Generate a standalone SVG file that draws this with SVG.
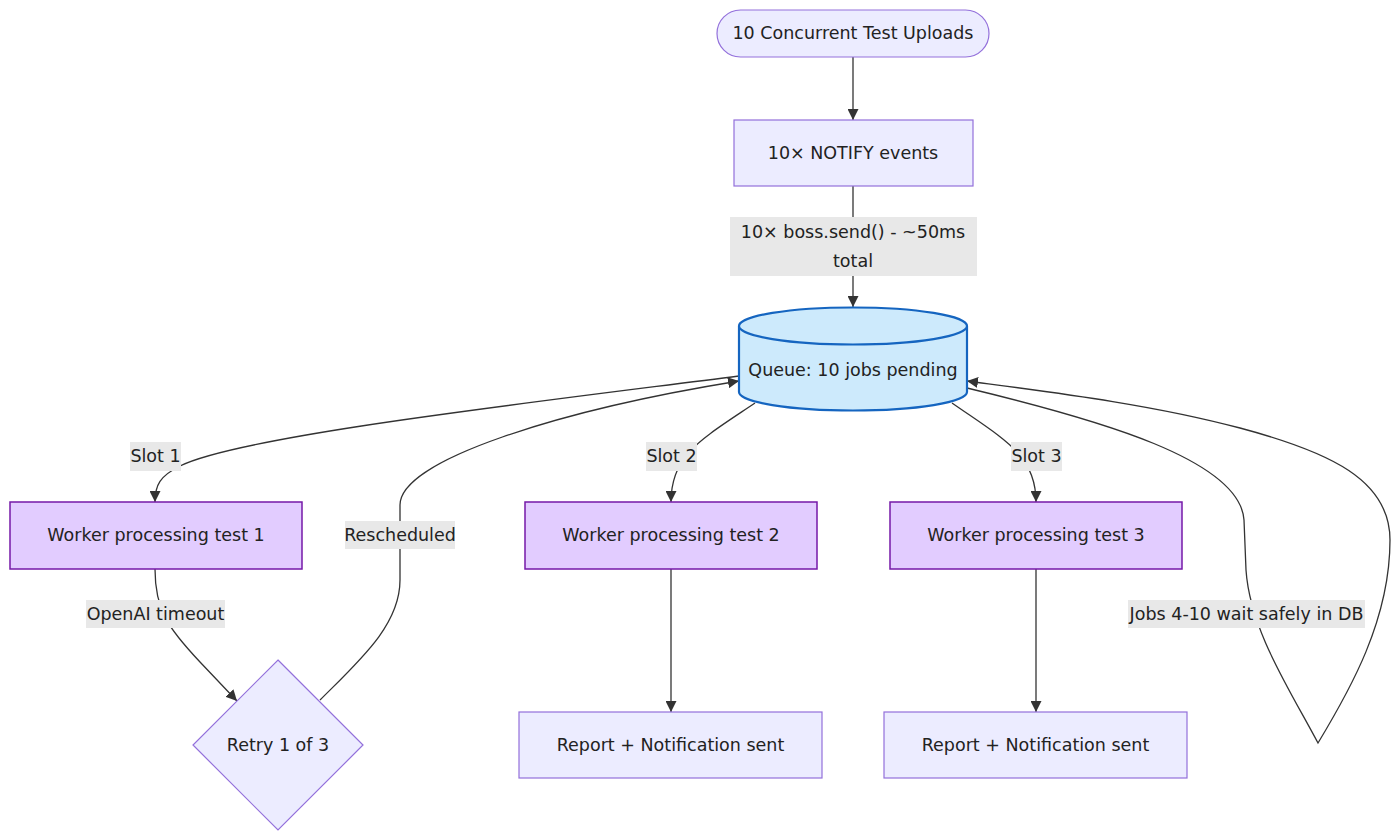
<svg xmlns="http://www.w3.org/2000/svg" width="1400" height="840" viewBox="0 0 1400 840">
<style>
text{font-family:"DejaVu Sans","Liberation Sans",Arial,sans-serif;font-size:17.5px;fill:#222;text-anchor:middle;dominant-baseline:central}
.n{fill:#ececff;stroke:#9370db;stroke-width:1.2}
.w{fill:#e2ccff;stroke:#7519a8;stroke-width:1.5}
.q{fill:#cdeafc;stroke:#1565c0;stroke-width:2.2}
.e{fill:none;stroke:#333;stroke-width:1.3}
.lb{fill:#e8e8e8}
</style>
<defs>
<marker id="ah" viewBox="0 0 10 10" refX="10" refY="5" markerWidth="11" markerHeight="11" markerUnits="userSpaceOnUse" orient="auto">
<path d="M0,0 L10,5 L0,10 Z" fill="#333"/>
</marker>
</defs>
<g id="edges">
<path class="e" d="M853,57 L853,120" marker-end="url(#ah)"/>
<path class="e" d="M853,186 L853,307" marker-end="url(#ah)"/>
<path class="e" d="M739,376 C520,404 240,436 180,466 C160,476 155,485 155,502" marker-end="url(#ah)"/>
<path class="e" d="M320,700 C360,660 400,625 400,580 L400,505 C400,460 560,410 739,381" marker-end="url(#ah)"/>
<path class="e" d="M155,569 C155,610 168,628 200,662 L237,701" marker-end="url(#ah)"/>
<path class="e" d="M755,403 C700,440 671,455 671,502" marker-end="url(#ah)"/>
<path class="e" d="M952,403 C1005,440 1036,455 1036,502" marker-end="url(#ah)"/>
<path class="e" d="M671,569 L671,712" marker-end="url(#ah)"/>
<path class="e" d="M1036,569 L1036,712" marker-end="url(#ah)"/>
<path class="e" d="M967,388 C1100,420 1240,460 1244,520 L1246,570 C1250,630 1290,690 1318,743 C1350,690 1390,620 1390,540 C1390,480 1330,452 1240,428 C1150,404 1050,392 967,381" marker-end="url(#ah)"/>
</g>
<g id="edge-labels">
<rect class="lb" x="730" y="217" width="247" height="59"/>
<text x="853" y="232">10× boss.send() - ~50ms</text>
<text x="853" y="261">total</text>
<rect class="lb" x="130" y="442" width="51" height="29"/>
<text x="155.5" y="456">Slot 1</text>
<rect class="lb" x="646" y="442" width="51" height="29"/>
<text x="671.5" y="456">Slot 2</text>
<rect class="lb" x="1011" y="442" width="51" height="29"/>
<text x="1036.5" y="456">Slot 3</text>
<rect class="lb" x="345" y="521" width="110" height="28"/>
<text x="400" y="535">Rescheduled</text>
<rect class="lb" x="86" y="600" width="139" height="28"/>
<text x="155.5" y="614">OpenAI timeout</text>
<rect class="lb" x="1128" y="600" width="237" height="28"/>
<text x="1246.5" y="614">Jobs 4-10 wait safely in DB</text>
</g>
<g id="start">
<rect class="n" x="717" y="10" width="272" height="47" rx="23.5" ry="23.5"/>
<text x="853" y="33">10 Concurrent Test Uploads</text>
</g>
<g id="notify">
<rect class="n" x="734" y="120" width="239" height="66"/>
<text x="853" y="153">10× NOTIFY events</text>
</g>
<g id="queue">
<path class="q" d="M739,326 L739,392 A114,18.5 0 0 0 967,392 L967,326 A114,18.5 0 0 0 739,326 A114,18.5 0 0 0 967,326"/>
<text x="853" y="370">Queue: 10 jobs pending</text>
</g>
<g id="worker1">
<rect class="w" x="10" y="502" width="292" height="67"/>
<text x="156" y="535">Worker processing test 1</text>
</g>
<g id="worker2">
<rect class="w" x="525" y="502" width="292" height="67"/>
<text x="671" y="535">Worker processing test 2</text>
</g>
<g id="worker3">
<rect class="w" x="890" y="502" width="292" height="67"/>
<text x="1036" y="535">Worker processing test 3</text>
</g>
<g id="retry">
<polygon class="n" points="278,660 363,745 278,830 193,745"/>
<text x="278" y="745">Retry 1 of 3</text>
</g>
<g id="report2">
<rect class="n" x="519" y="712" width="303" height="66"/>
<text x="670.5" y="745">Report + Notification sent</text>
</g>
<g id="report3">
<rect class="n" x="884" y="712" width="303" height="66"/>
<text x="1035.5" y="745">Report + Notification sent</text>
</g>
</svg>
